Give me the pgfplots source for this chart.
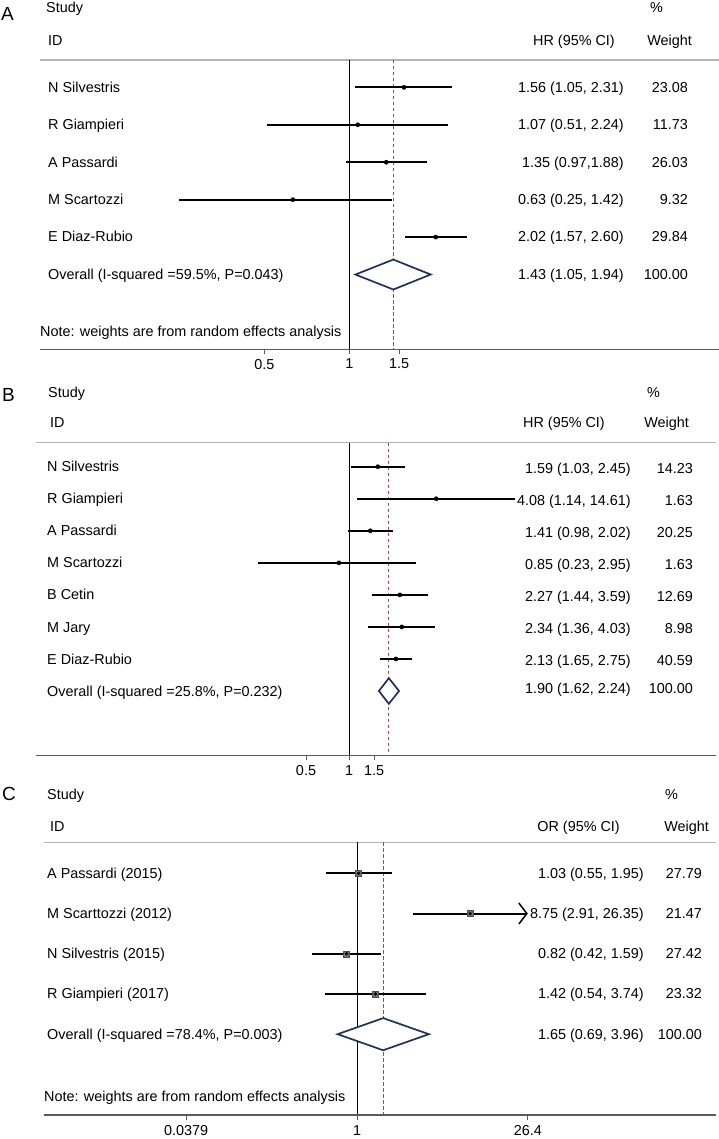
\documentclass[border=0pt]{standalone}
\usepackage{pgfplots}
\pgfplotsset{compat=1.18}
\usepackage{fontspec}
\setmainfont{Liberation Sans}
\usetikzlibrary{arrows.meta}
\definecolor{refline}{HTML}{A04848}
\definecolor{dia}{HTML}{22305A}
\definecolor{axgray}{HTML}{B4B4B4}
\definecolor{botgray}{HTML}{5A5A5A}

\pgfplotsset{
  forest/.style={
    scale only axis, clip=false,
    axis y line=none, axis x line=box,
    x axis line style={draw=axgray, line width=1.5pt},
    xtick pos=left, ytick=\empty, minor xtick={},
    tick align=outside, major tick length=4.5pt,
    tick style={botgray, line width=0.9pt},
    xticklabel style={font=\fontsize{14.4}{16}\selectfont, inner sep=0pt, yshift=-5pt},
  },
  ci/.style={black, line width=2pt, no markers},
  pt/.style={only marks, mark=*, mark size=2.1pt, black},
  dmd/.style={dia, line width=1.7pt, fill=white, no markers},
  one/.style={black, line width=1pt, no markers},
  est/.style={refline, line width=1pt, dash pattern=on 3.5pt off 2.5pt, no markers},
  bl/.style={botgray, line width=1.3pt, no markers},
  tk/.style={botgray, line width=1pt, no markers},
}

\begin{document}
\begin{tikzpicture}[every node/.append style={font=\fontsize{14.4}{16}\selectfont, inner sep=0pt}]
\useasboundingbox (0,0) rectangle (719pt,-1139pt);

% ---------------- Panel A ----------------
\begin{axis}[xmode=log, y dir=reverse, forest, at={(40pt,-349.3pt)}, anchor=south west,
  width=679pt, height=289.3pt,
  xmin=0.0802, xmax=20.35, ymin=0.270, ymax=7.997,
  xtick={0.5,1,1.5}, xticklabels={0.5,1,1.5}]
\addplot[one] coordinates {(1,0.270) (1,7.997)};
\addplot[est] coordinates {(1.43,0.270) (1.43,7.997)};
\addplot[ci] coordinates {(1.05,1) (2.31,1)};
\addplot[ci] coordinates {(0.51,2) (2.24,2)};
\addplot[ci] coordinates {(0.97,3) (1.88,3)};
\addplot[ci] coordinates {(0.25,4) (1.42,4)};
\addplot[ci] coordinates {(1.57,5) (2.60,5)};
\addplot[pt] coordinates {(1.56,1) (1.07,2) (1.35,3) (0.63,4) (2.02,5)};
\addplot[dmd] coordinates {(1.05,6) (1.43,5.6) (1.94,6) (1.43,6.4)} -- cycle;
\addplot[bl] coordinates {(0.0802,7.997) (20.35,7.997)};
\addplot[tk] coordinates {(0.5,7.997) (0.5,8.117)};
\addplot[tk] coordinates {(1,7.997) (1,8.117)};
\addplot[tk] coordinates {(1.5,7.997) (1.5,8.117)};
\end{axis}

% ---------------- Panel B ----------------
\begin{axis}[xmode=log, y dir=reverse, forest, at={(36pt,-755.7pt)}, anchor=south west,
  width=680pt, height=313pt,
  xmin=0.006438, xmax=370.9, ymin=0.251, ymax=10.02,
  xtick={0.5,1,1.5}, xticklabels={0.5,1,1.5}]
\addplot[one] coordinates {(1,0.251) (1,10.02)};
\addplot[est] coordinates {(1.90,0.251) (1.90,10.02)};
\addplot[ci] coordinates {(1.03,1) (2.45,1)};
\addplot[ci] coordinates {(1.14,2) (14.61,2)};
\addplot[ci] coordinates {(0.98,3) (2.02,3)};
\addplot[ci] coordinates {(0.23,4) (2.95,4)};
\addplot[ci] coordinates {(1.44,5) (3.59,5)};
\addplot[ci] coordinates {(1.36,6) (4.03,6)};
\addplot[ci] coordinates {(1.65,7) (2.75,7)};
\addplot[pt] coordinates {(1.59,1) (4.08,2) (1.41,3) (0.85,4) (2.27,5) (2.34,6) (2.13,7)};
\addplot[dmd] coordinates {(1.62,8) (1.90,7.6) (2.24,8) (1.90,8.4)} -- cycle;
\addplot[bl] coordinates {(0.006438,10.02) (370.9,10.02)};
\addplot[tk] coordinates {(0.5,10.02) (0.5,10.16)};
\addplot[tk] coordinates {(1,10.02) (1,10.16)};
\addplot[tk] coordinates {(1.5,10.02) (1.5,10.16)};
\end{axis}

% ---------------- Panel C ----------------
\begin{axis}[xmode=log, y dir=reverse, forest, at={(44pt,-1115pt)}, anchor=south west,
  width=672pt, height=272.7pt,
  xmin=0.002487, xmax=969.7, ymin=0.229, ymax=7.01,
  xtick={0.0379,1,26.4}, xticklabels={0.0379,1,26.4},
  xticklabel style={yshift=-1pt}]
\addplot[one] coordinates {(1,0.229) (1,7.01)};
\addplot[est] coordinates {(1.65,0.229) (1.65,7.01)};
\addplot[ci] coordinates {(0.55,1) (1.95,1)};
\addplot[black, line width=2pt, no markers, -{Straight Barb[length=8pt,width=21pt,line width=1.5pt]}] coordinates {(2.91,2) (26.35,2)};
\addplot[ci] coordinates {(0.42,3) (1.59,3)};
\addplot[ci] coordinates {(0.54,4) (3.74,4)};
\addplot[only marks, mark=square*, mark size=3pt, draw=black!70, fill=black!55] coordinates {(1.03,1) (8.75,2) (0.82,3) (1.42,4)};
\addplot[only marks, mark=*, mark size=1.5pt, black] coordinates {(1.03,1) (8.75,2) (0.82,3) (1.42,4)};
\addplot[dmd] coordinates {(0.69,5) (1.65,4.6) (3.96,5) (1.65,5.4)} -- cycle;
\addplot[bl] coordinates {(0.002487,7.01) (969.7,7.01)};
\addplot[tk] coordinates {(0.0379,7.01) (0.0379,7.122)};
\addplot[tk] coordinates {(1,7.01) (1,7.122)};
\addplot[tk] coordinates {(26.4,7.01) (26.4,7.122)};
\end{axis}

% ---------------- Text ----------------
\begin{scope}[x=1pt, y=-1pt]
% Panel A
\node[anchor=base west, font=\fontsize{19}{21}\selectfont] at (1,20.7) {A};
\node[anchor=base west] at (46,13) {Study};
\node[anchor=base west] at (650,13) {\%};
\node[anchor=base west] at (48,46) {ID};
\node[anchor=base east] at (615,46) {HR (95\% CI)};
\node[anchor=base east] at (692,46) {Weight};
\foreach \y/\lab/\num/\w in {
  87.3/N Silvestris/{1.56 (1.05, 2.31)}/23.08,
  124.7/R Giampieri/{1.07 (0.51, 2.24)}/11.73,
  162.1/A Passardi/{1.35 (0.97,1.88)}/26.03,
  199.5/M Scartozzi/{0.63 (0.25, 1.42)}/9.32,
  236.9/E Diaz-Rubio/{2.02 (1.57, 2.60)}/29.84,
  274.3/{Overall (I-squared =59.5\%, P=0.043)}/{1.43 (1.05, 1.94)}/100.00}{
  \node[anchor=base west] at (48,\y+5) {\lab};
  \node[anchor=base east] at (624,\y+5) {\num};
  \node[anchor=base east] at (688,\y+5) {\w};
}
\node[anchor=base west] at (40,336.5) {Note: weights are from random effects analysis};

% Panel B
\node[anchor=base west, font=\fontsize{19}{21}\selectfont] at (2,401.7) {B};
\node[anchor=base west] at (48,397) {Study};
\node[anchor=base west] at (647,397) {\%};
\node[anchor=base west] at (50,427) {ID};
\node[anchor=base east] at (605,427) {HR (95\% CI)};
\node[anchor=base east] at (689,427) {Weight};
\foreach \y/\lab/\num/\w in {
  466.7/N Silvestris/{1.59 (1.03, 2.45)}/14.23,
  498.8/R Giampieri/{4.08 (1.14, 14.61)}/1.63,
  530.8/A Passardi/{1.41 (0.98, 2.02)}/20.25,
  562.9/M Scartozzi/{0.85 (0.23, 2.95)}/1.63,
  594.9/B Cetin/{2.27 (1.44, 3.59)}/12.69,
  627.0/M Jary/{2.34 (1.36, 4.03)}/8.98,
  659.0/E Diaz-Rubio/{2.13 (1.65, 2.75)}/40.59}{
  \node[anchor=base west] at (47,\y+5) {\lab};
  \node[anchor=base east] at (631,\y+6.5) {\num};
  \node[anchor=base east] at (693,\y+6.5) {\w};
}
\node[anchor=base west] at (47,696.1) {Overall (I-squared =25.8\%, P=0.232)};
\node[anchor=base east] at (631,693) {1.90 (1.62, 2.24)};
\node[anchor=base east] at (693,693) {100.00};

% Panel C
\node[anchor=base west, font=\fontsize{19}{21}\selectfont] at (2,800.7) {C};
\node[anchor=base west] at (47,799) {Study};
\node[anchor=base west] at (665,799) {\%};
\node[anchor=base west] at (50,831) {ID};
\node[anchor=base east] at (620,831) {OR (95\% CI)};
\node[anchor=base east] at (709,831) {Weight};
\foreach \y/\lab/\num/\w in {
  873.3/A Passardi (2015)/{1.03 (0.55, 1.95)}/27.79,
  913.5/M Scarttozzi (2012)/{8.75 (2.91, 26.35)}/21.47,
  953.7/N Silvestris (2015)/{0.82 (0.42, 1.59)}/27.42,
  993.9/R Giampieri (2017)/{1.42 (0.54, 3.74)}/23.32,
  1034.1/{Overall (I-squared =78.4\%, P=0.003)}/{1.65 (0.69, 3.96)}/100.00}{
  \node[anchor=base west] at (47,\y+5) {\lab};
  \node[anchor=base east] at (644,\y+5) {\num};
  \node[anchor=base east] at (702,\y+5) {\w};
}
\node[anchor=base west] at (44,1101.5) {Note: weights are from random effects analysis};
\end{scope}
\end{tikzpicture}
\end{document}
